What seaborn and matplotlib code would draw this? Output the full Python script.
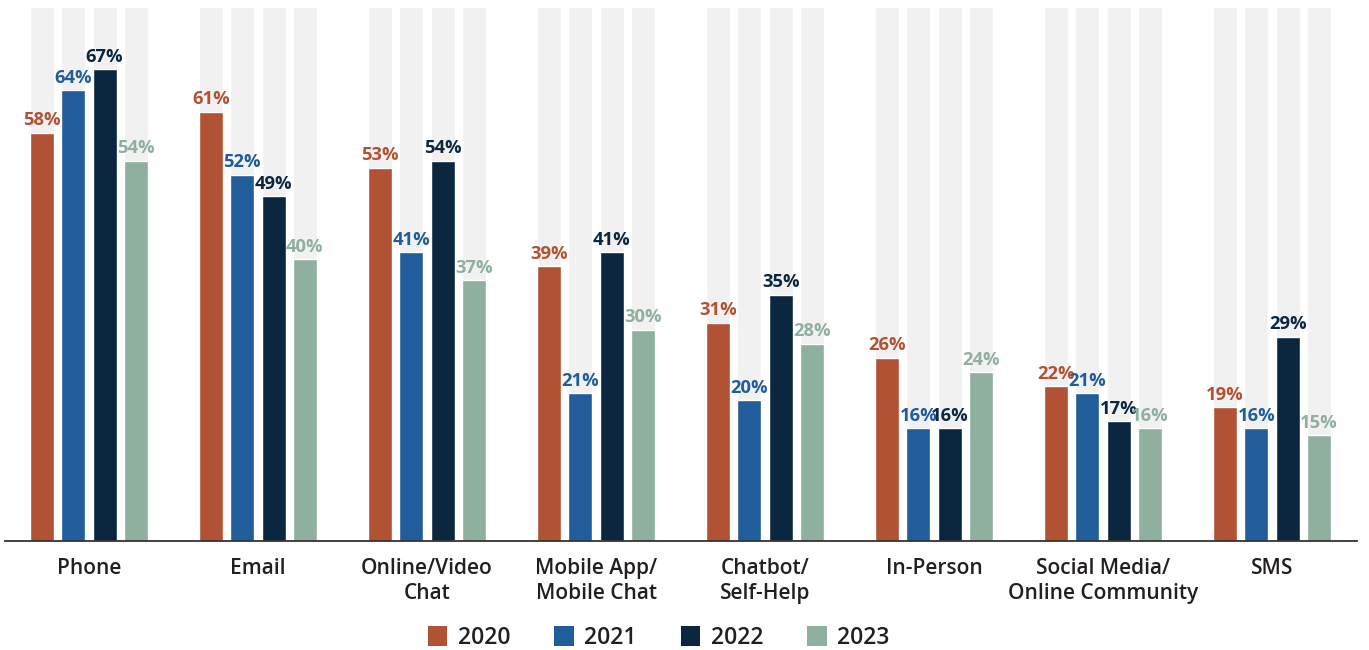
import matplotlib
matplotlib.use("Agg")
import matplotlib.pyplot as plt
import seaborn as sns
import pandas as pd
from matplotlib.patches import Patch

# Support-channel usage by year (percent of respondents)
channels = ["Phone", "Email", "Online/Video\nChat", "Mobile App/\nMobile Chat",
            "Chatbot/\nSelf-Help", "In-Person", "Social Media/\nOnline Community", "SMS"]
years = ["2020", "2021", "2022", "2023"]
v2020 = [58, 61, 53, 39, 31, 26, 22, 19]
v2021 = [64, 52, 41, 21, 20, 16, 21, 16]
v2022 = [67, 49, 54, 41, 35, 16, 17, 29]
v2023 = [54, 40, 37, 30, 28, 24, 16, 15]
colors = ["#B05233", "#215D9A", "#0B263F", "#8FAF9F"]
track_color = "#F1F1F1"
text_color = "#231F20"

series = dict(zip(years, [v2020, v2021, v2022, v2023]))
rows = []
for yr, vals in series.items():
    for ch, v in zip(channels, vals):
        rows.append({"channel": ch, "year": yr, "value": v})
df = pd.DataFrame(rows)
df["track"] = 100

sns.set_theme(style="white")
plt.rcParams["font.family"] = ["Open Sans", "DejaVu Sans"]

fig = plt.figure(figsize=(13.69, 6.5), dpi=100)
ax = fig.add_axes([4.5 / 1369, 109 / 650, 1352 / 1369, 533 / 650])

bar_kw = dict(x="channel", hue="year", order=channels, hue_order=years,
              width=0.74, gap=0.23, legend=False, ax=ax, saturation=1)
# light background tracks behind every bar
sns.barplot(data=df, y="track", palette=[track_color] * 4, **bar_kw)
# actual values
sns.barplot(data=df, y="value", palette=colors, **bar_kw)

ax.set_ylim(0, 75.7)
ax.set_xlim(-0.5, len(channels) - 0.5)

for cont, col in zip(ax.containers[4:], colors):
    labels = [f"{b.get_height():.0f}%" for b in cont]
    ax.bar_label(cont, labels=labels, padding=2.5, color=col,
                 fontsize=13.2, fontweight="bold")

ax.set_xlabel("")
ax.set_ylabel("")
ax.set_yticks([])
for side in ["top", "right", "left"]:
    ax.spines[side].set_visible(False)
ax.spines["bottom"].set_color("#333333")
ax.spines["bottom"].set_linewidth(1.3)
ax.tick_params(axis="x", length=0, pad=12)
for lbl in ax.get_xticklabels():
    lbl.set_fontsize(15)
    lbl.set_fontweight("semibold")
    lbl.set_color(text_color)
    lbl.set_linespacing(1.3)

handles = [Patch(facecolor=c, edgecolor="none") for c in colors]
leg = fig.legend(handles, years, loc="center", ncol=4,
                 bbox_to_anchor=(0.481, 12 / 650), frameon=False,
                 fontsize=16.5, handlelength=0.87, handleheight=0.96,
                 handletextpad=0.44, columnspacing=1.92, borderpad=0)
for t in leg.get_texts():
    t.set_color(text_color)
    t.set_fontweight("semibold")

fig.savefig("out.png", dpi=100)
